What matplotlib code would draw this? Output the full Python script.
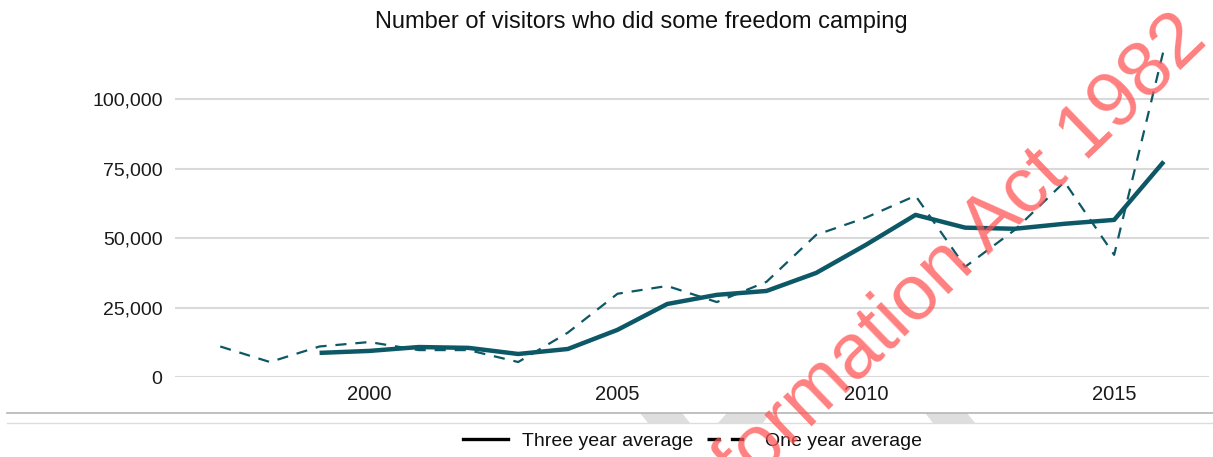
import matplotlib.pyplot as plt
import matplotlib.ticker as mticker
from matplotlib.lines import Line2D
from matplotlib.patches import Polygon

plt.rcParams['font.family'] = ['Liberation Sans', 'DejaVu Sans']

# data
years_one = list(range(1997, 2017))
one_year = [11000, 5400, 11000, 12600, 9700, 9700, 5400, 16000, 30000, 32800,
            27000, 34300, 51200, 57400, 65300, 39700, 53000, 70300, 44000, 118000]
years_three = list(range(1999, 2017))
three_year = [8700, 9400, 10800, 10500, 8300, 10100, 17000, 26300, 29600, 31000,
              37500, 47600, 58400, 53800, 53400, 55200, 56600, 77600]
xticks = [2000, 2005, 2010, 2015]
yticks = [0, 25000, 50000, 75000, 100000]

teal = '#0d5866'
W, H = 1213, 457

fig = plt.figure(figsize=(12.13, 4.57), dpi=100)
ax = fig.add_axes([0.1443, 0.175, 0.852, 0.729])

ax.plot(years_three, three_year, color=teal, lw=3.2, solid_capstyle='butt', zorder=3)
ax.plot(years_one, one_year, color=teal, lw=1.6, dashes=(5, 4), zorder=2, clip_on=False)

ax.set_xlim(1996.09, 2016.9)
ax.set_ylim(0, 120000)
ax.set_xticks(xticks)
ax.set_yticks(yticks)
ax.yaxis.set_major_formatter(mticker.FuncFormatter(lambda v, p: f'{int(v):,}'))
ax.grid(axis='y', color='#d9d9d9', lw=1.5)
ax.set_axisbelow(True)
for s in ax.spines.values():
    s.set_visible(False)
ax.tick_params(length=0, labelsize=14, colors='#1a1a1a')
ax.tick_params(axis='x', pad=6, labelsize=14.5)
ax.tick_params(axis='y', pad=9)

fig.text(0.529, 0.952, 'Number of visitors who did some freedom camping',
         ha='center', va='center', fontsize=17, color='#111111')

handles = [Line2D([], [], color='black', lw=2.4),
           Line2D([], [], color='black', lw=2.4, dashes=(4, 3))]
fig.legend(handles, ['Three year average', 'One year average'], loc='center',
           bbox_to_anchor=(0.571, 0.035), ncol=2, frameon=False, fontsize=14,
           handlelength=2.3, columnspacing=0.7, handletextpad=0.7,
           labelcolor='#111111')

# page separator lines and grey stripes
y0, y1 = 1 - 413 / H, 1 - 423 / H
fig.add_artist(Line2D([7 / W, 1], [y0, y0], color='#b5b5b5', lw=1.2))
fig.add_artist(Line2D([7 / W, 1], [y1, y1], color='#dddddd', lw=1.0))
stripes = [(640, 682, 690, 648), (727, 770, 763, 718), (925, 967, 975, 933)]
for xa, xb, xc, xd in stripes:
    fig.add_artist(Polygon([(xa / W, y0), (xb / W, y0), (xc / W, y1), (xd / W, y1)],
                           closed=True, facecolor='#dedede', edgecolor='none',
                           transform=fig.transFigure, zorder=0))

# watermark
fig.text(0.49, -0.33, 'Released under the Official Information Act 1982', rotation=44,
         fontsize=56, color='#ff5555', alpha=0.75, ha='center', va='center',
         rotation_mode='anchor', zorder=10)

fig.savefig('out.png', dpi=100)
